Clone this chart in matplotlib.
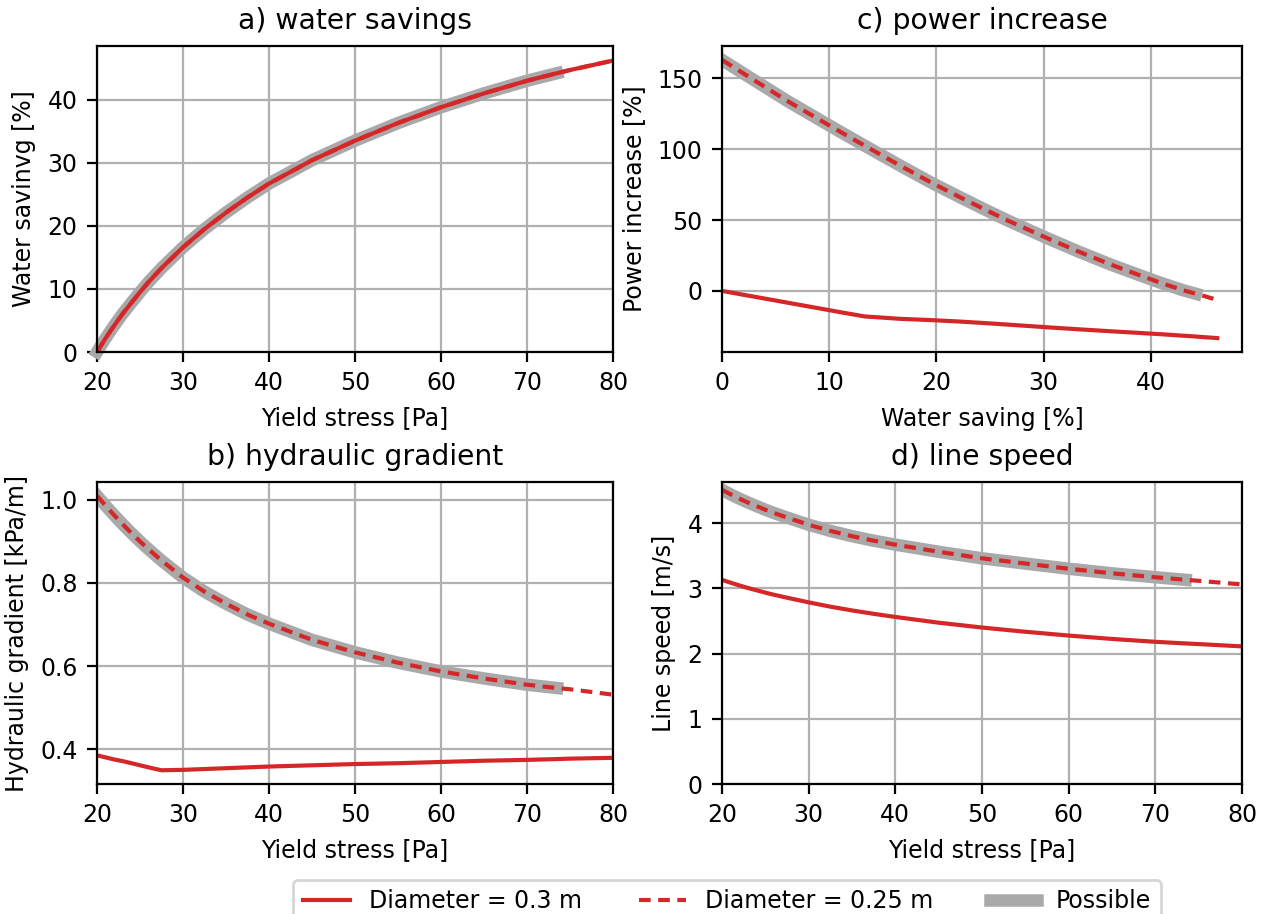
import matplotlib
matplotlib.use('Agg')
import matplotlib.pyplot as plt
import numpy as np

plt.rcParams['font.size'] = 8.5
plt.rcParams['axes.titlesize'] = 10.2

# yield stress points [Pa] and results
yield_stress = np.array([20, 21, 22, 23, 24, 25, 26, 27.5, 30, 32.5, 35, 37.5, 40,
                         45, 50, 55, 60, 65, 70, 73.5, 75, 80])
water_saving = np.array([0, 2.2, 4.2, 6.1, 7.8, 9.5, 11.1, 13.3, 16.6, 19.5, 22.1, 24.5, 26.7,
                         30.4, 33.5, 36.3, 38.8, 41.0, 43.0, 44.2, 44.7, 46.2])
grad_030 = np.array([0.385, 0.380, 0.375, 0.371, 0.366, 0.361, 0.356, 0.349, 0.350, 0.352, 0.354, 0.356, 0.358,
                     0.361, 0.364, 0.366, 0.369, 0.372, 0.374, 0.376, 0.377, 0.379])
grad_025 = np.array([1.010, 0.986, 0.963, 0.941, 0.920, 0.900, 0.881, 0.854, 0.813, 0.779, 0.750, 0.724, 0.702,
                     0.663, 0.633, 0.608, 0.587, 0.570, 0.555, 0.547, 0.544, 0.531])
speed_030 = np.array([3.13, 3.086, 3.044, 3.005, 2.969, 2.934, 2.901, 2.856, 2.785, 2.719, 2.661, 2.609, 2.561,
                      2.473, 2.399, 2.334, 2.276, 2.224, 2.18, 2.155, 2.145, 2.11])
speed_025 = np.array([4.51, 4.44, 4.375, 4.315, 4.26, 4.205, 4.155, 4.085, 3.975, 3.88, 3.80, 3.73, 3.67,
                      3.56, 3.46, 3.38, 3.30, 3.23, 3.17, 3.13, 3.115, 3.06])
power_030 = np.array([0, -3, -5.7, -8.3, -10.6, -12.9, -15.1, -18, -19.7, -20.6, -21.6, -22.7, -23.8,
                      -25.7, -27.2, -28.5, -29.6, -30.6, -31.6, -32.2, -32.5, -33.3])
power_025 = np.array([163, 152.5, 143, 134, 126.5, 119, 112, 102.5, 88.5, 76.5, 66.5, 57.5, 49.5,
                      37, 27, 18.5, 11.5, 5.5, 0.5, -2, -3, -6.4])
possible_limit = 73.5  # Pa

red = '#d62728'
grey = '#a9a9a9'
dash = (2.8, 1.8)
ok = yield_stress <= possible_limit

fig = plt.figure(figsize=(6.33, 4.57), dpi=200)
W, H = 1266, 914


def rect(l, r, t, b):
    return [l / W, 1 - b / H, (r - l) / W, (b - t) / H]


ax_a = fig.add_axes(rect(97, 613, 46, 352))
ax_c = fig.add_axes(rect(722, 1242, 46, 352))
ax_b = fig.add_axes(rect(97, 613, 482, 784))
ax_d = fig.add_axes(rect(722, 1242, 482, 784))

# a) water savings (same for both diameters)
ax_a.plot(yield_stress[ok], water_saving[ok], color=grey, lw=4.5, clip_on=False)
ax_a.plot(yield_stress, water_saving, color=red, lw=1.5, ls='--', dashes=dash)
ax_a.plot(yield_stress, water_saving, color=red, lw=1.5)
ax_a.set_ylim(bottom=0)
ax_a.set_title('a) water savings')
ax_a.set_xlabel('Yield stress [Pa]')
ax_a.set_ylabel('Water savinvg [%]')

# b) hydraulic gradient
ax_b.plot(yield_stress[ok], grad_025[ok], color=grey, lw=4.5)
ax_b.plot(yield_stress, grad_030, color=red, lw=1.5)
ax_b.plot(yield_stress, grad_025, color=red, lw=1.5, ls='--', dashes=dash)
ax_b.set_title('b) hydraulic gradient')
ax_b.set_xlabel('Yield stress [Pa]')
ax_b.set_ylabel('Hydraulic gradient [kPa/m]')

# c) power increase
ax_c.plot(water_saving[ok], power_025[ok], color=grey, lw=4.5)
ax_c.plot(water_saving, power_030, color=red, lw=1.5)
ax_c.plot(water_saving, power_025, color=red, lw=1.5, ls='--', dashes=dash)
ax_c.set_xlim(left=0)
ax_c.set_title('c) power increase')
ax_c.set_xlabel('Water saving [%]')
ax_c.set_ylabel('Power increase [%]')

# d) line speed
l_poss, = ax_d.plot(yield_stress[ok], speed_025[ok], color=grey, lw=4.5)
l_030, = ax_d.plot(yield_stress, speed_030, color=red, lw=1.5)
l_025, = ax_d.plot(yield_stress, speed_025, color=red, lw=1.5, ls='--', dashes=dash)
ax_d.set_ylim(bottom=0)
ax_d.set_title('d) line speed')
ax_d.set_xlabel('Yield stress [Pa]')
ax_d.set_ylabel('Line speed [m/s]')

for ax in (ax_a, ax_b, ax_d):
    ax.set_xlim(20, 80)
for ax in (ax_a, ax_b, ax_c, ax_d):
    ax.grid(True)

fig.legend([l_030, l_025, l_poss], ['Diameter = 0.3 m', 'Diameter = 0.25 m', 'Possible'],
           loc='upper center', bbox_to_anchor=(727 / W, 1 - 868 / H), ncol=3, columnspacing=2.4)

fig.savefig('out.png', dpi=200)
